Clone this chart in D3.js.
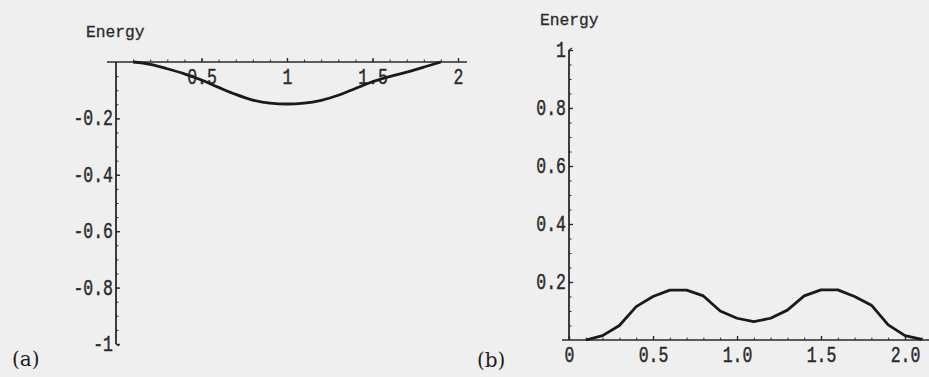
<!DOCTYPE html>
<html>
<head>
<meta charset="utf-8">
<script src="https://cdn.jsdelivr.net/npm/d3@7"></script>
<style>
  html, body { margin: 0; padding: 0; background: #efefef; }
  svg { display: block; }
  .axis path, .axis line { stroke: #2a2a2a; }
  .axis text {
    font-family: "Liberation Mono", "DejaVu Sans Mono", monospace; font-size: 16.5px;
    fill: #2a2a2a; stroke: #2a2a2a; stroke-width: 0.35px;
    transform-box: fill-box; transform-origin: center; transform: scaleY(1.3);
  }
  .title { font-family: "Liberation Mono", monospace; font-size: 16.3px; fill: #2a2a2a; stroke: #2a2a2a; stroke-width: 0.3px; }
  .panel { font-family: "DejaVu Serif", "Liberation Serif", serif; font-size: 20px; fill: #1e1e1e; }
</style>
</head>
<body>
<script>
// panel (a): energy along the path, negative dip
const xA = [0.1, 0.2, 0.3, 0.4, 0.5, 0.6, 0.7, 0.8, 0.9, 1.0, 1.1, 1.2, 1.3, 1.4, 1.5, 1.6, 1.7, 1.8, 1.9];
const yA = [0, -0.008, -0.024, -0.042, -0.064, -0.09, -0.115, -0.135, -0.146, -0.149, -0.146, -0.136, -0.118, -0.094, -0.07, -0.052, -0.036, -0.018, 0];
const xTicksA = [0.5, 1, 1.5, 2];
const yTicksA = [-0.2, -0.4, -0.6, -0.8, -1];

// panel (b): double hump
const xB = [0.1, 0.2, 0.3, 0.4, 0.5, 0.6, 0.7, 0.8, 0.9, 1.0, 1.1, 1.2, 1.3, 1.4, 1.5, 1.6, 1.7, 1.8, 1.9, 2.0, 2.1];
const yB = [0, 0.015, 0.05, 0.115, 0.15, 0.172, 0.172, 0.152, 0.1, 0.075, 0.063, 0.075, 0.103, 0.152, 0.173, 0.173, 0.15, 0.12, 0.052, 0.015, 0.002];
const xTicksB = [0, 0.5, 1.0, 1.5, 2.0];
const yTicksB = [0.2, 0.4, 0.6, 0.8, 1];

const svg = d3.select('body').append('svg').attr('width', 929).attr('height', 377);

function drawPanel(cfg) {
  const x = d3.scaleLinear().domain(cfg.xDom).range(cfg.xRange);
  const y = d3.scaleLinear().domain(cfg.yDom).range(cfg.yRange);
  const g = svg.append('g');

  // minor ticks
  g.append('g').attr('class', 'axis')
    .attr('transform', `translate(0,${y(0)})`)
    .call(d3.axisBottom(x).tickValues(cfg.xMinor).tickSizeInner(-2.5).tickSizeOuter(0).tickFormat(''))
    .select('.domain').remove();
  g.append('g').attr('class', 'axis')
    .attr('transform', `translate(${x(0)},0)`)
    .call(d3.axisLeft(y).tickValues(cfg.yMinor).tickSizeInner(-2.5).tickSizeOuter(0).tickFormat(''))
    .select('.domain').remove();

  // x axis line across the full extent
  g.append('line')
    .attr('x1', cfg.xLine[0]).attr('x2', cfg.xLine[1])
    .attr('y1', y(0)).attr('y2', y(0))
    .attr('stroke', '#2a2a2a').attr('stroke-width', 1.6);

  const xa = g.append('g').attr('class', 'axis')
    .attr('transform', `translate(0,${y(0)})`)
    .call(d3.axisBottom(x).tickValues(cfg.xTicks).tickSizeInner(-4).tickSizeOuter(0)
      .tickPadding(9).tickFormat(cfg.xFmt));
  xa.select('.domain').remove();
  xa.selectAll('line').attr('stroke-width', 1.4);

  const ya = g.append('g').attr('class', 'axis')
    .attr('transform', `translate(${x(0)},0)`)
    .call(d3.axisLeft(y).tickValues(cfg.yTicks).tickSizeInner(-4).tickSizeOuter(0)
      .tickPadding(3).tickFormat(d => d3.format('')(d).replace('−', '-')));
  ya.select('.domain').remove();
  ya.selectAll('line').attr('stroke-width', 1.4);

  // y axis line
  g.append('line')
    .attr('x1', x(0)).attr('x2', x(0))
    .attr('y1', y(cfg.yDom[0])).attr('y2', y(cfg.yDom[1]))
    .attr('stroke', '#2a2a2a').attr('stroke-width', 1.8);

  // end hook of the y axis
  const yEnd = cfg.yEnd;
  g.append('line')
    .attr('x1', x(0)).attr('x2', x(0) + 3)
    .attr('y1', y(yEnd)).attr('y2', y(yEnd) + cfg.hook)
    .attr('stroke', '#2a2a2a').attr('stroke-width', 1.2);

  const line = d3.line().x(d => x(d[0])).y(d => y(d[1])).curve(cfg.curve);
  g.append('path')
    .datum(cfg.xs.map((v, i) => [v, cfg.ys[i]]))
    .attr('d', line)
    .attr('fill', 'none')
    .attr('stroke', '#1a1a1a')
    .attr('stroke-width', 2.8)
    .attr('stroke-linejoin', 'round');

  g.append('text').attr('class', 'title')
    .attr('x', cfg.title[0]).attr('y', cfg.title[1]).text('Energy');
  g.append('text').attr('class', 'panel')
    .attr('x', cfg.panel[0]).attr('y', cfg.panel[1]).text(cfg.panelText);
}

drawPanel({
  xDom: [0, 2], xRange: [116, 458],
  yDom: [-1, 0], yRange: [344, 62],
  xLine: [107, 467],
  xTicks: xTicksA, xFmt: d => d3.format('')(d),
  xMinor: d3.range(1, 21).map(i => i / 10),
  yTicks: yTicksA,
  yMinor: d3.range(1, 21).map(i => -i / 20),
  yEnd: -1, hook: 2,
  curve: d3.curveMonotoneX,
  xs: xA, ys: yA,
  title: [86, 37], panel: [12, 366], panelText: '(a)'
});

drawPanel({
  xDom: [0, 2], xRange: [569, 905],
  yDom: [0, 1], yRange: [340, 50],
  xLine: [562, 929],
  xTicks: xTicksB, xFmt: d => d3.format('.1f')(d).replace(/^0\.0$/, '0'),
  xMinor: d3.range(1, 22).map(i => i / 10),
  yTicks: yTicksB,
  yMinor: d3.range(1, 21).map(i => i / 20),
  yEnd: 1, hook: -2,
  curve: d3.curveLinear,
  xs: xB, ys: yB,
  title: [540, 25], panel: [477, 367], panelText: '(b)'
});
</script>
</body>
</html>
